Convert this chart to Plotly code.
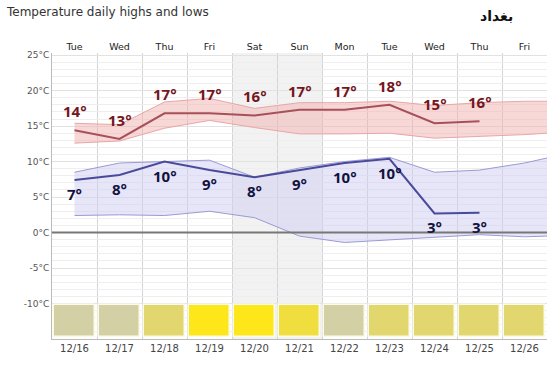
import plotly.graph_objects as go

days = ["Tue", "Wed", "Thu", "Fri", "Sat", "Sun", "Mon", "Tue", "Wed", "Thu", "Fri"]
dates = ["12/16", "12/17", "12/18", "12/19", "12/20", "12/21", "12/22", "12/23", "12/24", "12/25", "12/26"]

high = [14.4, 13.2, 16.8, 16.8, 16.5, 17.3, 17.3, 18.0, 15.4, 15.7]
high_labels = ["14°", "13°", "17°", "17°", "16°", "17°", "17°", "18°", "15°", "16°"]
low = [7.4, 8.1, 10.0, 8.8, 7.8, 8.8, 9.8, 10.4, 2.7, 2.8]
low_labels = ["7°", "8°", "10°", "9°", "8°", "9°", "10°", "10°", "3°", "3°"]

band_x = [0, 1, 2, 3, 4, 5, 6, 7, 8, 9, 10, 10.5]
high_upper = [15.4, 15.2, 18.4, 18.9, 17.5, 18.3, 18.3, 18.5, 17.9, 18.3, 18.5, 18.5]
high_lower = [12.6, 12.9, 14.7, 15.8, 14.8, 13.9, 13.9, 14.0, 13.3, 13.5, 13.8, 14.0]
low_upper = [8.5, 9.8, 10.0, 10.2, 7.8, 9.1, 10.0, 10.6, 8.5, 8.8, 9.8, 10.5]
low_lower = [2.4, 2.5, 2.4, 3.0, 2.1, -0.5, -1.4, -1.0, -0.6, -0.3, -0.6, -0.5]

sky_colors = ["#d3d0a6", "#d3d0a6", "#e2d66e", "#fde61a", "#fde61a", "#f0dd3e",
              "#d3d0a6", "#e2d66e", "#e2d66e", "#e2d66e", "#e2d66e"]

x_idx = list(range(len(days)))
y_min, y_max = -15.0, 25.3
block_top = -10.2

fig = go.Figure()

# weekend shading
fig.add_vrect(x0=3.5, x1=5.5, fillcolor="#f2f2f2", line_width=0, layer="below")

# high band
fig.add_trace(go.Scatter(x=band_x, y=high_lower, mode="lines",
                         line=dict(color="#eaa6a6", width=1), hoverinfo="skip", showlegend=False))
fig.add_trace(go.Scatter(x=band_x, y=high_upper, mode="lines", fill="tonexty",
                         fillcolor="rgba(242,175,175,0.5)",
                         line=dict(color="#eaa6a6", width=1), hoverinfo="skip", showlegend=False))
# low band
fig.add_trace(go.Scatter(x=band_x, y=low_lower, mode="lines",
                         line=dict(color="#9a9ad6", width=1), hoverinfo="skip", showlegend=False))
fig.add_trace(go.Scatter(x=band_x, y=low_upper, mode="lines", fill="tonexty",
                         fillcolor="rgba(205,205,242,0.5)",
                         line=dict(color="#9a9ad6", width=1), hoverinfo="skip", showlegend=False))

# lines
fig.add_trace(go.Scatter(x=x_idx[:len(high)], y=high, mode="lines",
                         line=dict(color="#a8505a", width=2), showlegend=False))
fig.add_trace(go.Scatter(x=x_idx[:len(low)], y=low, mode="lines",
                         line=dict(color="#4a4a9a", width=2), showlegend=False))

# sky blocks
fig.add_trace(go.Bar(x=x_idx, y=[block_top - (y_min + 0.25)] * len(x_idx), base=y_min + 0.25,
                     width=0.9, marker=dict(color=sky_colors, line=dict(color="#fbfbe8", width=1.5)),
                     hoverinfo="skip", showlegend=False))

for i, (v, t) in enumerate(zip(high, high_labels)):
    fig.add_annotation(x=i, y=v, text="<b>" + t + "</b>", showarrow=False, yshift=19,
                       font=dict(family="Open Sans, sans-serif", size=15, color="#741620"))
for i, (v, t) in enumerate(zip(low, low_labels)):
    fig.add_annotation(x=i, y=v, text="<b>" + t + "</b>", showarrow=False, yshift=-14,
                       font=dict(family="Open Sans, sans-serif", size=15, color="#12123e"))

# zero line
fig.add_hline(y=0, line=dict(color="#777777", width=2))

fig.add_annotation(xref="paper", yref="paper", x=-0.097, y=1.145, xanchor="left", yanchor="middle",
                   text="Temperature daily highs and lows", showarrow=False,
                   font=dict(family="DejaVu Sans, sans-serif", size=12, color="#333333"))
fig.add_annotation(xref="paper", yref="paper", x=0.94, y=1.13, xanchor="right", yanchor="middle",
                   text="<b>بغداد</b>", showarrow=False, borderpad=3,
                   font=dict(family="DejaVu Sans, sans-serif", size=14, color="#111111"))

fig.update_layout(
    width=550, height=366,
    margin=dict(l=52, r=3, t=53, b=27, autoexpand=False),
    paper_bgcolor="white", plot_bgcolor="white",
    bargap=0,
    xaxis=dict(range=[-0.5, 10.5], tickvals=x_idx, ticktext=dates, showgrid=False, automargin=False,
               tickfont=dict(family="DejaVu Sans, sans-serif", size=10, color="#444444"),
               ticks="", ticklen=0, zeroline=False, showline=True, linecolor="#bbbbbb",
               minor=dict(tickvals=[i + 0.5 for i in range(-1, len(days))], showgrid=True,
                          gridcolor="#d4d4d4", gridwidth=1, ticks=""),
               fixedrange=True),
    xaxis2=dict(range=[-0.5, 10.5], tickvals=x_idx, ticktext=days, overlaying="x", side="top",
                showgrid=False, zeroline=False, ticks="", automargin=False,
                tickfont=dict(family="DejaVu Sans, sans-serif", size=9.5, color="#222222")),
    yaxis=dict(range=[y_min, y_max], tickvals=[25, 20, 15, 10, 5, 0, -5, -10], automargin=False,
               ticktext=["25°C", "20°C", "15°C", "10°C", "5°C", "0°C", "-5°C", "-10°C"],
               tickfont=dict(family="DejaVu Sans, sans-serif", size=9, color="#555555"),
               showgrid=True, gridcolor="#e2e2e2", zeroline=False, ticks="",
               showline=True, linecolor="#bbbbbb",
               minor=dict(dtick=1, showgrid=True, gridcolor="#eeeeee", gridwidth=1)),
)
# dummy trace to activate top axis
fig.add_trace(go.Scatter(x=[0], y=[y_min], xaxis="x2", mode="markers", marker=dict(opacity=0),
                         hoverinfo="skip", showlegend=False))

fig.write_html("out.html", config={"displayModeBar": False},
               post_script="document.body.style.margin='0';document.body.style.overflow='hidden';")
